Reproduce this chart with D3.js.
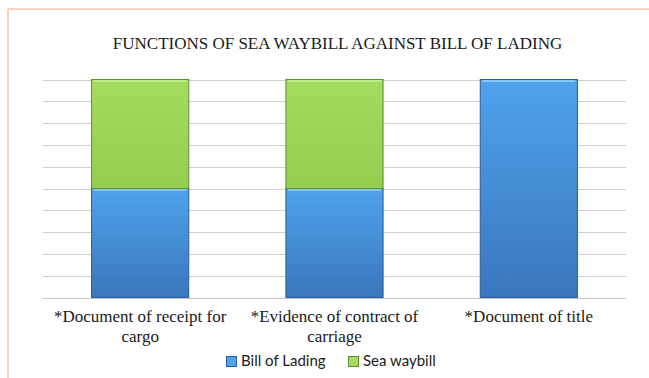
<!DOCTYPE html>
<html><head><meta charset="utf-8">
<script src="https://cdn.jsdelivr.net/npm/d3@7"></script>
<style>
html,body{margin:0;padding:0;background:#fff;}
svg{display:block;}
</style>
</head>
<body>
<svg id="c" width="649" height="378"></svg>
<script>
const categories = ["*Document of receipt for cargo", "*Evidence of contract of carriage", "*Document of title"];
const billOfLading = [1, 1, 2];
const seaWaybill = [1, 1, 0];
const seriesNames = ["Bill of Lading", "Sea waybill"];
const yTicks = [0, 0.2, 0.4, 0.6, 0.8, 1.0, 1.2, 1.4, 1.6, 1.8, 2.0];
const title = "FUNCTIONS OF SEA WAYBILL AGAINST BILL OF LADING";

const svg = d3.select("#c");
const W = 649, H = 378;
const m = {left: 43, right: 23, top: 79.5, bottom: 80.5};

// frame
svg.append("line").attr("x1", 8).attr("x2", W).attr("y1", 9).attr("y2", 9).attr("stroke", "#f3c4a6").attr("stroke-width", 1.5);
svg.append("line").attr("x1", 8).attr("x2", 8).attr("y1", 9).attr("y2", H).attr("stroke", "#f3c4a6").attr("stroke-width", 1.5);

// title
svg.append("text").attr("x", 337.5).attr("y", 49).attr("text-anchor", "middle")
  .style("font-family", "'Liberation Serif'").style("font-size", "17px").attr("fill", "#1a1a1a").text(title);

const x = d3.scaleBand().domain(categories).range([m.left, W - m.right]).paddingInner(0.5).paddingOuter(0.25);
const y = d3.scaleLinear().domain([0, 2]).range([H - m.bottom, m.top]);

// category labels (wrapped to at most 24 characters per line)
function wrap(s, n) {
  const out = []; let cur = "";
  s.split(" ").forEach(w => {
    const t = cur ? cur + " " + w : w;
    if (t.length > n && cur) { out.push(cur); cur = w; } else cur = t;
  });
  out.push(cur);
  return out;
}
const labels = svg.append("g");
categories.forEach(c => {
  const t = labels.append("text").attr("text-anchor", "middle").attr("fill", "#1a1a1a")
    .style("font-family", "'Liberation Serif'").style("font-size", "17px");
  wrap(c, 24).forEach((l, k) => t.append("tspan").attr("x", x(c) + x.bandwidth() / 2).attr("y", y(0) + 24.5 + k * 20).text(l));
});

// legend
const legItems = [{name: seriesNames[0], x: 226, c1: "#4fa3ec", c2: "#2c5d95"}, {name: seriesNames[1], x: 348, c1: "#a3dc5f", c2: "#5f8f33"}];
legItems.forEach(it => {
  svg.append("rect").attr("x", it.x + 0.5).attr("y", 356.5).attr("width", 10).attr("height", 10)
    .attr("fill", it.c1).attr("stroke", it.c2);
  svg.append("text").attr("x", it.x + 15).attr("y", 366).style("font-family", "'Lato'").style("font-size", "15px")
    .attr("fill", "#1a1a1a").text(it.name);
});

const defs = svg.append("defs");
function grad(id, c1, c2) {
  const g = defs.append("linearGradient").attr("id", id).attr("x1", 0).attr("y1", 0).attr("x2", 0).attr("y2", 1);
  g.append("stop").attr("offset", "0%").attr("stop-color", c1);
  g.append("stop").attr("offset", "100%").attr("stop-color", c2);
}
grad("gBlue", "#4fa3ec", "#3a76bd");
grad("gGreen", "#a3dc5f", "#93ce4f");

// gridlines
svg.append("g").selectAll("line").data(yTicks).join("line")
  .attr("x1", m.left).attr("x2", W - m.right)
  .attr("y1", d => Math.round(y(d)) + 0.5).attr("y2", d => Math.round(y(d)) + 0.5)
  .attr("stroke", "#d0d0d0").attr("stroke-width", 1);

// baseline
svg.append("line").attr("x1", m.left).attr("x2", W - m.right)
  .attr("y1", Math.round(y(0)) + 0.5).attr("y2", Math.round(y(0)) + 0.5).attr("stroke", "#c4c4c4");

// stacked bars
const rows = categories.map((c, i) => ({cat: c, "Bill of Lading": billOfLading[i], "Sea waybill": seaWaybill[i]}));
const stack = d3.stack().keys(seriesNames)(rows);
const fills = {"Bill of Lading": "url(#gBlue)", "Sea waybill": "url(#gGreen)"};
const edges = {"Bill of Lading": "#2c5d95", "Sea waybill": "#5f8f33"};
const hilites = {"Bill of Lading": "#8fd0ff", "Sea waybill": "#c6ef92"};

stack.forEach(layer => {
  const g = svg.append("g");
  layer.forEach((d, i) => {
    if (d[1] - d[0] <= 0) return;
    const x0 = x(categories[i]), bw = x.bandwidth();
    const yt = y(d[1]), yb = y(d[0]);
    g.append("rect").attr("x", x0).attr("y", yt).attr("width", bw).attr("height", yb - yt)
      .attr("fill", fills[layer.key]).attr("stroke", edges[layer.key]).attr("stroke-width", 1);
    g.append("line").attr("x1", x0 + 2).attr("x2", x0 + bw - 2).attr("y1", yt + 1.5).attr("y2", yt + 1.5)
      .attr("stroke", hilites[layer.key]).attr("stroke-width", 2).attr("opacity", 0.8);
  });
});
</script>
</body></html>
